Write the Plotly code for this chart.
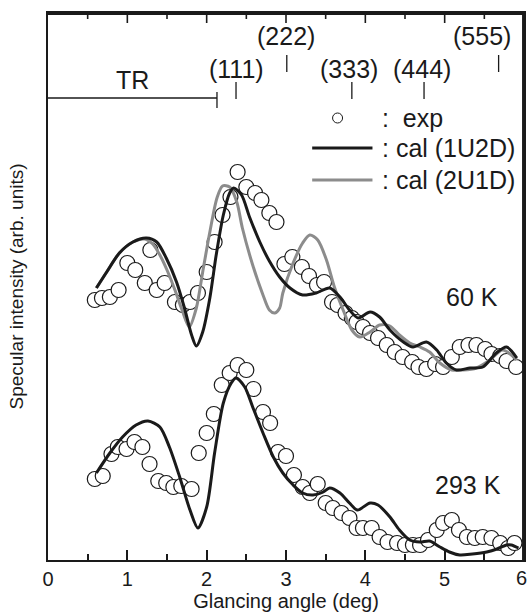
import plotly.graph_objects as go

# ---------------- data ----------------
# 60 K experimental
exp60_x = [0.59, 0.68, 0.78, 0.89, 1.00, 1.10, 1.22, 1.29, 1.37, 1.47, 1.60, 1.70, 1.79, 1.89,
           2.00, 2.10, 2.20, 2.30, 2.39, 2.50, 2.61, 2.69, 2.79, 2.88, 2.98, 3.08, 3.20, 3.29,
           3.39, 3.48, 3.58, 3.65, 3.75, 3.83, 3.89, 3.97, 4.06, 4.16, 4.27, 4.37, 4.47, 4.59,
           4.67, 4.77, 4.88, 4.98, 5.09, 5.19, 5.30, 5.40, 5.51, 5.59, 5.70, 5.78, 5.90]
exp60_y = [260, 262, 263, 270, 297, 290, 277, 310, 270, 277, 258, 255, 258, 267,
           288, 318, 345, 363, 388, 373, 367, 360, 347, 338, 296, 303, 293, 284,
           275, 278, 258, 255, 247, 242, 238, 233, 227, 222, 215, 208, 203, 198,
           193, 191, 196, 193, 203, 213, 215, 215, 211, 206, 204, 199, 193]

# 60 K calculation (1U2D)
cal60a_x = [0.61, 0.74, 0.90, 1.07, 1.24, 1.37, 1.49, 1.62, 1.72, 1.81, 1.87, 1.95, 2.04, 2.12,
            2.21, 2.29, 2.34, 2.44, 2.54, 2.67, 2.79, 2.92, 3.05, 3.21, 3.38, 3.55, 3.68, 3.80,
            3.91, 4.06, 4.18, 4.31, 4.48, 4.60, 4.77, 4.90, 5.02, 5.15, 5.32, 5.48, 5.65, 5.78, 5.91]
cal60a_y = [272, 288, 307, 318, 322, 318, 302, 278, 252, 225, 214, 228, 262, 305,
            345, 367, 372, 365, 343, 318, 299, 283, 272, 265, 267, 272, 263, 250,
            242, 248, 243, 230, 218, 213, 218, 210, 197, 190, 192, 193, 207, 213, 202]

# 60 K calculation (2U1D)
cal60b_x = [0.61, 0.74, 0.90, 1.07, 1.22, 1.32, 1.41, 1.50, 1.60, 1.69, 1.78, 1.87, 1.95, 2.04,
            2.13, 2.20, 2.29, 2.38, 2.45, 2.58, 2.71, 2.79, 2.86, 2.92, 2.96, 3.09, 3.21, 3.30,
            3.40, 3.51, 3.61, 3.72, 3.83, 3.93, 4.06, 4.18, 4.31, 4.43, 4.56, 4.69, 4.81, 4.94,
            5.09, 5.23, 5.40, 5.57, 5.73, 5.91]
cal60b_y = [272, 288, 307, 318, 321, 316, 305, 290, 270, 250, 233, 252, 288, 328,
            362, 374, 373, 358, 332, 295, 265, 250, 247, 252, 267, 297, 317, 325,
            320, 300, 273, 250, 230, 223, 228, 235, 234, 225, 217, 213, 208, 197,
            190, 190, 192, 200, 210, 200]

# 293 K experimental
exp293_x = [0.59, 0.69, 0.80, 0.88, 0.99, 1.09, 1.19, 1.28, 1.39, 1.49, 1.58, 1.68, 1.81, 1.90,
            2.00, 2.09, 2.19, 2.29, 2.39, 2.50, 2.59, 2.71, 2.80, 2.90, 3.00, 3.10, 3.21, 3.30,
            3.40, 3.50, 3.59, 3.70, 3.80, 3.89, 3.97, 4.08, 4.18, 4.28, 4.40, 4.50, 4.60, 4.69,
            4.79, 4.90, 4.98, 5.09, 5.18, 5.28, 5.38, 5.48, 5.59, 5.70, 5.80, 5.88]
exp293_y = [81, 84, 106, 113, 111, 118, 113, 96, 79, 77, 73, 74, 71, 107,
            127, 146, 175, 187, 195, 190, 171, 148, 137, 108, 104, 85, 73, 67,
            76, 57, 52, 47, 42, 32, 32, 32, 23, 18, 17, 15, 15, 15,
            20, 30, 37, 40, 30, 23, 22, 23, 22, 17, 12, 17]

# 293 K calculation (1U2D)
cal293_x = [0.61, 0.78, 0.94, 1.11, 1.26, 1.41, 1.53, 1.66, 1.79, 1.89, 2.00, 2.10, 2.21, 2.31,
            2.37, 2.48, 2.58, 2.71, 2.84, 2.96, 3.09, 3.21, 3.34, 3.47, 3.55, 3.68, 3.80, 3.90,
            4.06, 4.16, 4.31, 4.43, 4.56, 4.69, 4.81, 4.94, 5.06, 5.19, 5.35, 5.53, 5.66, 5.78,
            5.84, 5.93]
cal293_y = [87, 107, 123, 135, 139, 133, 113, 83, 50, 32, 53, 107, 157, 177,
            182, 173, 153, 127, 103, 87, 75, 67, 65, 68, 72, 67, 57, 50,
            57, 55, 43, 30, 20, 18, 19, 13, 8, 5, 6, 8, 11, 15,
            15, 12]

# Bragg positions and labels
bragg_labels = ["(111)", "(222)", "(333)", "(444)", "(555)"]
bragg_x = [2.37, 3.01, 3.83, 4.74, 5.68]
tr_end = 2.13

# top-axis tick positions (mirror of bottom axis)
top_major = [1, 2, 3, 4, 5]
top_minor = [0.5, 1.5, 2.5, 3.5, 4.5, 5.5]

FONT = "Liberation Sans, Arial, Helvetica, sans-serif"
INK = "#1a1a1a"
GRAY = "#8c8c8c"

fig = go.Figure()

marker_style = dict(symbol="circle", size=15, color="white", line=dict(color=INK, width=1.2))

fig.add_trace(go.Scatter(x=exp60_x, y=exp60_y, mode="markers", marker=marker_style,
                         showlegend=False, cliponaxis=False))
fig.add_trace(go.Scatter(x=exp293_x, y=exp293_y, mode="markers", marker=marker_style,
                         showlegend=False, cliponaxis=False))

line_kw = dict(shape="spline", smoothing=0.8)
fig.add_trace(go.Scatter(x=cal60b_x, y=cal60b_y, mode="lines",
                         line=dict(color=GRAY, width=3, **line_kw), showlegend=False))
fig.add_trace(go.Scatter(x=cal60a_x, y=cal60a_y, mode="lines",
                         line=dict(color=INK, width=3, **line_kw), showlegend=False))
fig.add_trace(go.Scatter(x=cal293_x, y=cal293_y, mode="lines",
                         line=dict(color=INK, width=3, **line_kw), showlegend=False))

# legend (custom)
fig.add_trace(go.Scatter(x=[3.65], y=[442], mode="markers",
                         marker=dict(symbol="circle", size=10, color="white",
                                     line=dict(color=INK, width=1)), showlegend=False))
fig.add_trace(go.Scatter(x=[3.33, 4.09], y=[412, 412], mode="lines",
                         line=dict(color=INK, width=3), showlegend=False))
fig.add_trace(go.Scatter(x=[3.33, 4.09], y=[380, 380], mode="lines",
                         line=dict(color=GRAY, width=3), showlegend=False))

annotations = [
    dict(x=4.19, y=442, text=":  exp", xanchor="left"),
    dict(x=4.19, y=412, text=": cal (1U2D)", xanchor="left"),
    dict(x=4.19, y=380, text=": cal (2U1D)", xanchor="left"),
    dict(x=5.35, y=263, text="60 K", xanchor="center"),
    dict(x=5.30, y=75, text="293 K", xanchor="center"),
    dict(x=1.07, y=480, text="TR", xanchor="center"),
]
label_x = [2.37, 3.00, 3.80, 4.72, 5.47]
label_y = [491, 524, 491, 491, 524]
for t, lx, ly in zip(bragg_labels, label_x, label_y):
    annotations.append(dict(x=lx, y=ly, text=t, xanchor="center"))
for a in annotations:
    a.update(xref="x", yref="y", showarrow=False, yanchor="middle",
             font=dict(family=FONT, size=25, color=INK))
# last x tick label (partly at the right edge, as in the reference)
annotations.append(dict(x=5.97, y=-18 / 547, xref="x", yref="paper", text="6", showarrow=False,
                        xanchor="center", yanchor="middle",
                        font=dict(family=FONT, size=20, color=INK)))

# frame: separate top and right edges, drawn slightly inside the plot area
shapes = [
    dict(type="line", xref="paper", yref="paper", x0=0, x1=1, y0=0.998, y1=0.998,
         line=dict(color=INK, width=2), layer="above"),
    dict(type="line", xref="paper", yref="paper", x0=0.998, x1=0.998, y0=0, y1=1,
         line=dict(color=INK, width=2), layer="above"),
]
for tx in top_major:
    shapes.append(dict(type="line", xref="x", yref="paper", x0=tx, x1=tx, y0=1, y1=1 - 10 / 547,
                       line=dict(color=INK, width=1.6), layer="above"))
for tx in top_minor:
    shapes.append(dict(type="line", xref="x", yref="paper", x0=tx, x1=tx, y0=1, y1=1 - 6 / 547,
                       line=dict(color=INK, width=1.6), layer="above"))
tick_lo = [461, 488, 461, 461, 488]
for bx, lo in zip(bragg_x, tick_lo):
    shapes.append(dict(type="line", xref="x", yref="y", x0=bx, x1=bx, y0=lo, y1=lo + 17,
                       line=dict(color=INK, width=1.3)))
shapes.append(dict(type="line", xref="x", yref="y", x0=0, x1=tr_end, y0=462, y1=462,
                   line=dict(color=INK, width=1.3)))
shapes.append(dict(type="line", xref="x", yref="y", x0=tr_end, x1=tr_end, y0=452, y1=468,
                   line=dict(color=INK, width=1.3)))

fig.update_layout(
    width=529, height=615,
    margin=dict(l=48, r=5, t=13, b=55, autoexpand=False),
    plot_bgcolor="white", paper_bgcolor="white",
    font=dict(family=FONT, size=20, color=INK),
    annotations=annotations, shapes=shapes,
    showlegend=False,
)
fig.update_xaxes(
    range=[0, 6], dtick=1, tick0=0, ticks="inside", ticklen=10, tickwidth=1.5, tickcolor=INK,
    minor=dict(dtick=0.5, ticks="inside", ticklen=6, tickwidth=1.5, tickcolor=INK),
    showline=True, linewidth=1.5, linecolor=INK, mirror=True,
    showgrid=False, zeroline=False, automargin=False,
    tickfont=dict(family=FONT, size=20, color=INK),
    title=dict(text="Glancing angle (deg)", font=dict(family=FONT, size=20, color=INK), standoff=2),
)
fig.update_yaxes(
    range=[0, 547], showticklabels=False, ticks="",
    showline=True, linewidth=1.5, linecolor=INK, mirror=True,
    showgrid=False, zeroline=False, automargin=False,
    title=dict(text="Specular intensity (arb. units)", font=dict(family=FONT, size=19, color=INK), standoff=18),
)

fig.write_html("out.html", config={"displayModeBar": False},
               post_script="document.body.style.margin='0';")
